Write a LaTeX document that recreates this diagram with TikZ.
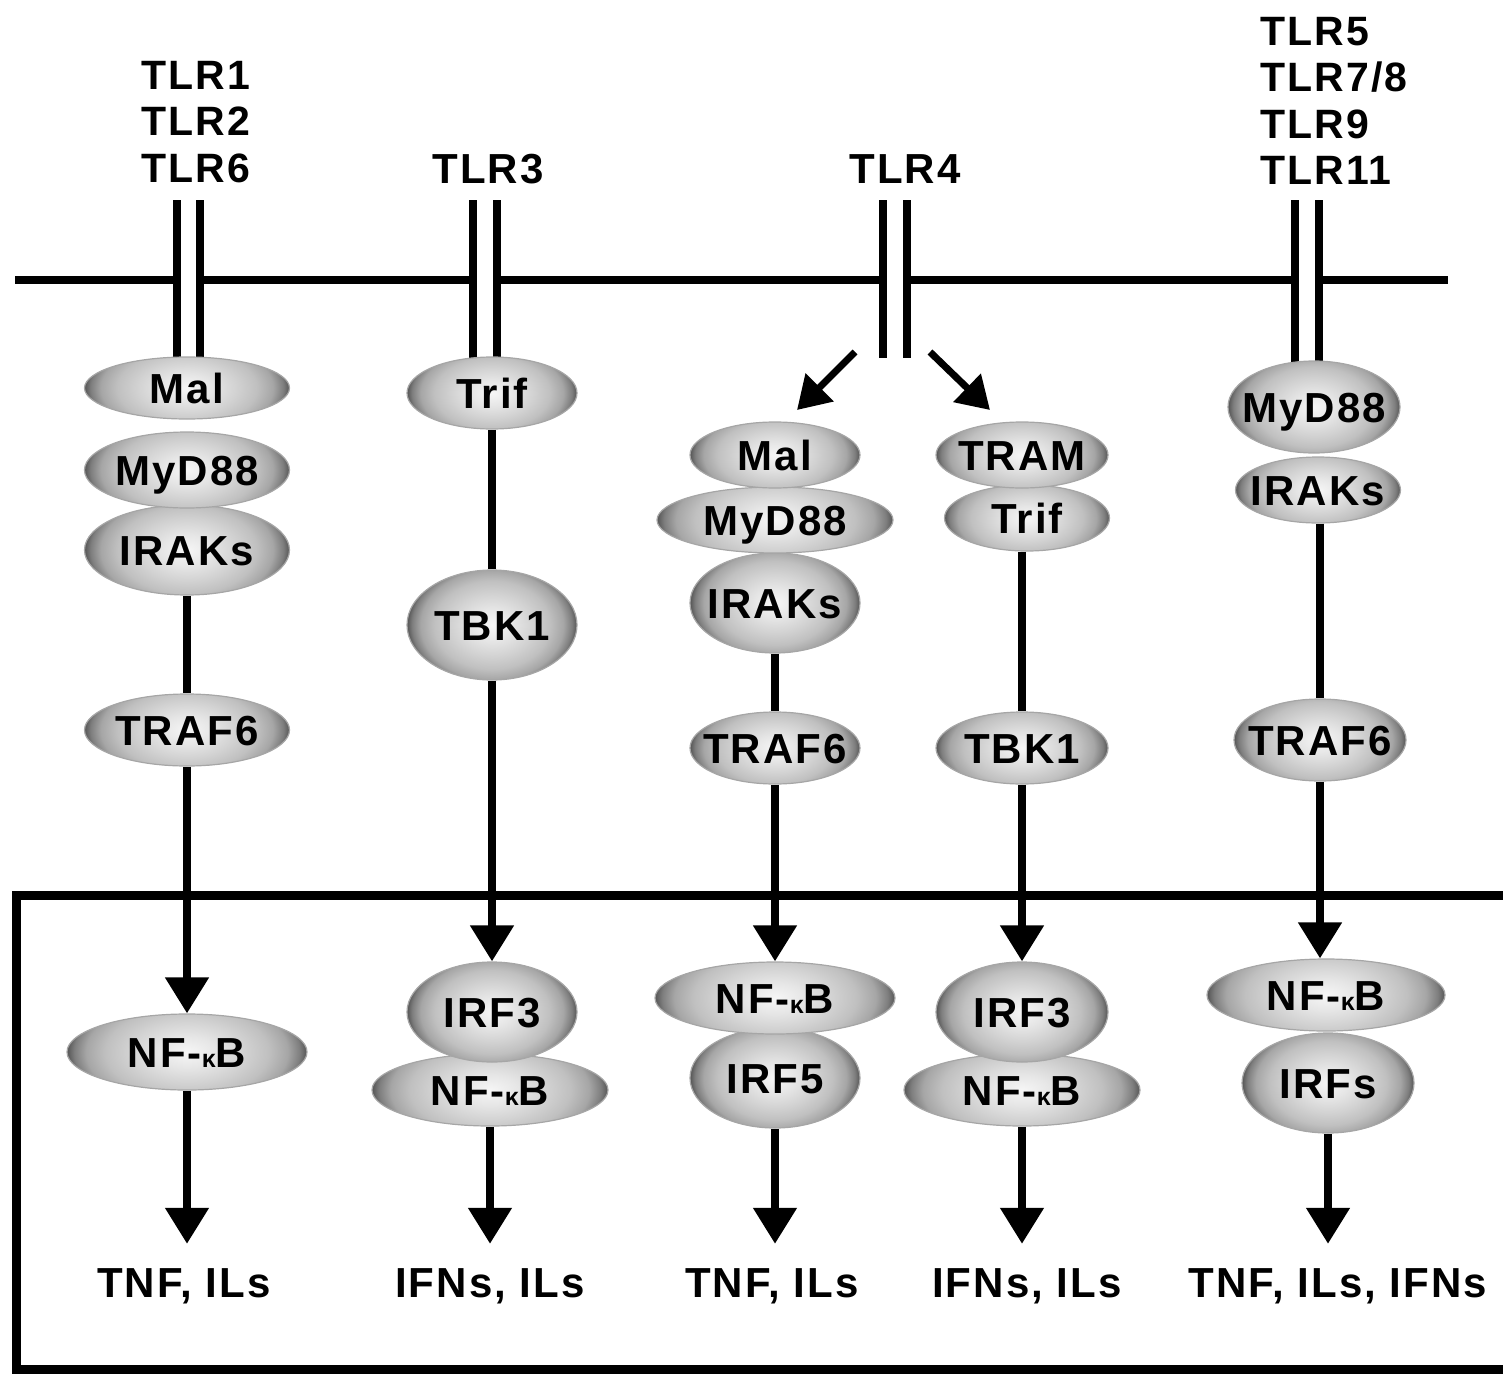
\documentclass[tikz,border=0pt]{standalone}
\usepackage{fontspec}
\newfontfamily\labfont[LetterSpace=5]{Liberation Sans}
\usetikzlibrary{shapes.geometric,arrows.meta,calc}
\pgfdeclarelayer{bg}
\pgfsetlayers{bg,main}
\definecolor{ecA}{HTML}{F6F6F6}
\definecolor{ecB}{HTML}{E6E6E6}
\definecolor{ecC}{HTML}{D2D2D2}
\definecolor{ecD}{HTML}{C0C0C0}
\definecolor{ecE}{HTML}{A6A6A6}
\definecolor{ecG}{HTML}{7E7E7E}
\definecolor{ecF}{HTML}{555555}
\pgfdeclareradialshading{ellsh}{\pgfpointorigin}{color(0bp)=(ecA); color(6bp)=(ecB); color(12bp)=(ecC); color(17bp)=(ecD); color(21bp)=(ecE); color(23.5bp)=(ecG); color(25bp)=(ecF); color(50bp)=(ecF)}
\tikzset{
  ell/.style={ellipse, draw=black!35, line width=1.2pt, inner sep=0pt,
    text height=30pt, text depth=0pt,
    font=\labfont\bfseries\fontsize{42}{42}\selectfont},
  lab/.style={inner sep=0pt, text height=30pt, text depth=0pt,
    font=\labfont\bfseries\fontsize{42}{42}\selectfont},
  tlr/.style={inner sep=0pt, align=left,
    font=\labfont\bfseries\fontsize{41}{46.5}\selectfont},
  conn/.style={line width=8pt},
  arr/.style={line width=8pt, -{Triangle[width=42pt,length=36pt]}},
  darr/.style={line width=7pt, -{Triangle[width=38pt,length=32pt]}},
  recl/.style={line width=8pt},
  memb/.style={line width=8pt},
  nucl/.style={line width=9pt}
}
\newcommand\protnode[6]{%
  \begin{scope}
    \clip (#2,#3) ellipse [x radius={#4/2*1pt}, y radius={#5/2*1pt}];
    \shade[shading=ellsh] (#2,#3) ellipse [x radius={#4/2*1pt}, y radius={(#4/2+#5)/3*1pt}];
  \end{scope}
  \node[ell, minimum width=#4pt, minimum height=#5pt] (#1) at (#2,#3) {\makebox[0pt]{#6}};}
\newcommand\nfkb{NF-{\fontsize{25}{25}\selectfont κ}B}
\begin{document}
\begin{tikzpicture}[x=1pt,y=-1pt]
\useasboundingbox (0,0) rectangle (1503,1375);
% labels at top
\node[tlr] (tlrA) at (196,122) {TLR1\\TLR2\\TLR6};
\node[lab] (tlr3) at (488,168) {TLR3};
\node[lab] (tlr4) at (905,168) {TLR4};
\node[tlr] (tlrB) at (1334,101) {TLR5\\TLR7/8\\TLR9\\TLR11};
% membrane
\draw[memb] (15,280) -- (177,280);
\draw[memb] (200,280) -- (473,280);
\draw[memb] (497,280) -- (883,280);
\draw[memb] (907,280) -- (1295,280);
\draw[memb] (1319,280) -- (1448,280);
% receptors
\draw[recl] (177,200) -- (177,362);
\draw[recl] (200,200) -- (200,362);
\draw[recl] (473,200) -- (473,362);
\draw[recl] (497,200) -- (497,362);
\draw[recl] (883,200) -- (883,358);
\draw[recl] (907,200) -- (907,358);
\draw[recl] (1295,200) -- (1295,366);
\draw[recl] (1319,200) -- (1319,366);
% nucleus box
\draw[nucl] (1510,895) -- (16,895) -- (16,1369) -- (1510,1369);
% column 1
\protnode{nf1}{187}{1052}{240}{76}{\nfkb}
\protnode{traf1}{187}{730}{205}{72}{TRAF6}
\protnode{irak1}{187}{550}{205}{90}{IRAKs}
\protnode{myd1}{187}{470}{205}{76}{MyD88}
\protnode{mal1}{187}{388}{205}{62}{Mal}
% column 2
\protnode{nf2}{490}{1090}{236}{72}{\nfkb}
\protnode{irf3b}{492}{1012}{170}{100}{IRF3}
\protnode{tbk2}{492}{625}{170}{110}{TBK1}
\protnode{trif2}{492}{393}{170}{72}{Trif}
% column 3
\protnode{irf5}{775}{1078}{170}{100}{IRF5}
\protnode{nf3}{775}{998}{240}{72}{\nfkb}
\protnode{traf3}{775}{748}{170}{72}{TRAF6}
\protnode{irak3}{775}{603}{170}{100}{IRAKs}
\protnode{myd3}{775}{520}{236}{66}{MyD88}
\protnode{mal3}{775}{455}{170}{66}{Mal}
% column 4
\protnode{nf4}{1022}{1090}{236}{72}{\nfkb}
\protnode{irf34}{1022}{1012}{172}{100}{IRF3}
\protnode{tbk4}{1022}{748}{172}{72}{TBK1}
\protnode{trif4}{1027}{518}{165}{66}{Trif}
\protnode{tram4}{1022}{455}{172}{66}{TRAM}
% column 5
\protnode{irfs5}{1328}{1083}{172}{100}{IRFs}
\protnode{nf5}{1326}{995}{238}{72}{\nfkb}
\protnode{traf5}{1320}{740}{172}{82}{TRAF6}
\protnode{irak5}{1318}{490}{165}{66}{IRAKs}
\protnode{myd5}{1314}{407}{172}{92}{MyD88}
% outputs
\node[lab] (o1) at (184,1282) {TNF, ILs};
\node[lab] (o2) at (490,1282) {IFNs, ILs};
\node[lab] (o3) at (772,1282) {TNF, ILs};
\node[lab] (o4) at (1027,1282) {IFNs, ILs};
\node[lab] (o5) at (1338,1282) {TNF, ILs, IFNs};
% TLR4 branch arrows
\coordinate (t4ls) at (855,352);
\coordinate (t4le) at (797,410);
\coordinate (t4rs) at (930,352);
\coordinate (t4re) at (990,410);
\begin{pgfonlayer}{bg}
\draw[darr] (t4ls) -- (t4le);
\draw[darr] (t4rs) -- (t4re);
% column 1
\draw[conn] (irak1) -- (traf1);
\draw[arr] (traf1) -- (nf1);
\draw[arr, shorten >=23pt] (nf1.south) -- (nf1.south |- o1.north);
% column 2
\draw[conn] (trif2) -- (tbk2);
\draw[arr] (tbk2) -- (irf3b);
\draw[arr, shorten >=23pt] (nf2.south) -- (nf2.south |- o2.north);
% column 3
\draw[conn] (irak3) -- (traf3);
\draw[arr] (traf3) -- (nf3);
\draw[arr, shorten >=23pt] (irf5.south) -- (irf5.south |- o3.north);
% column 4
\draw[conn] (tbk4.north |- trif4.south) -- (tbk4.north);
\draw[arr] (tbk4) -- (irf34);
\draw[arr, shorten >=23pt] (nf4.south) -- (nf4.south |- o4.north);
% column 5
\draw[conn] (traf5.north |- irak5.south) -- (traf5.north);
\draw[arr] (traf5.south) -- (traf5.south |- nf5.north);
\draw[arr, shorten >=23pt] (irfs5.south) -- (irfs5.south |- o5.north);
\end{pgfonlayer}
\end{tikzpicture}
\end{document}
